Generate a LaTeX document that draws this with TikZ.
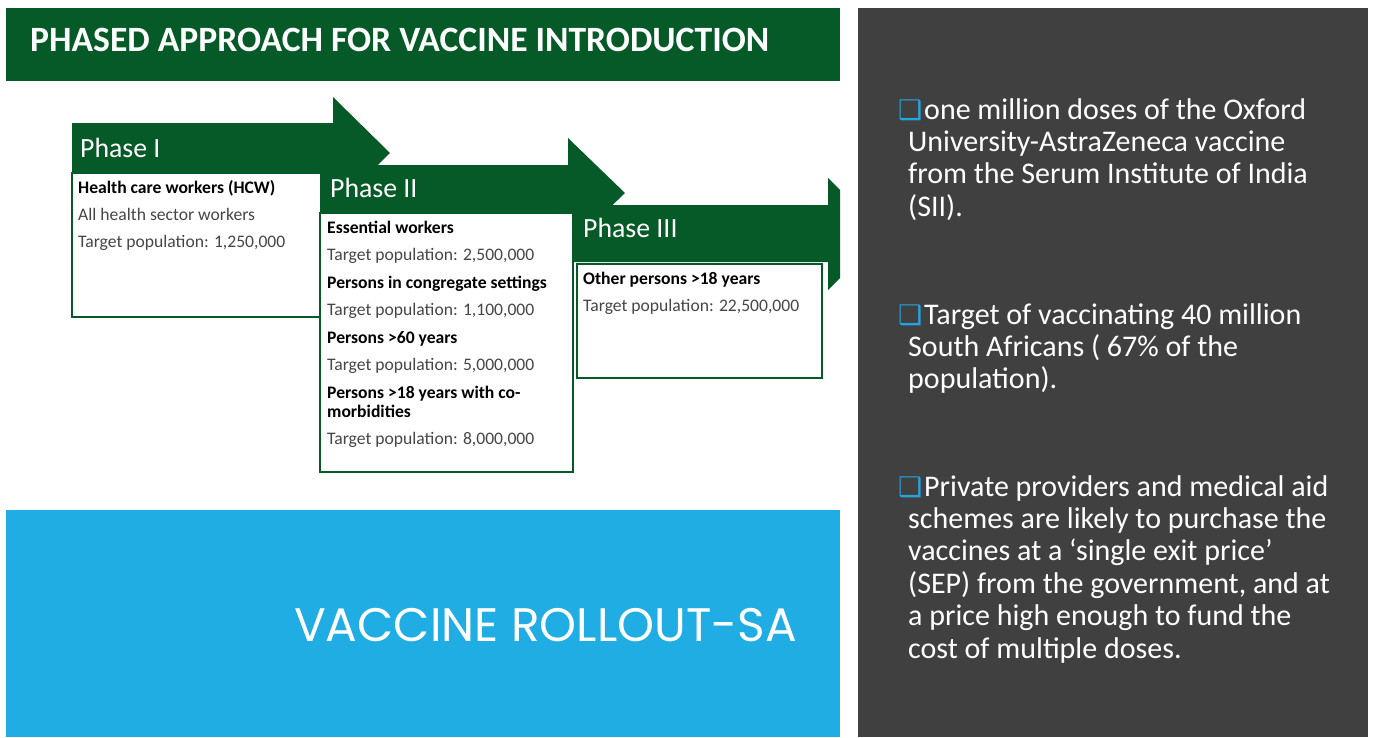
\documentclass[tikz,border=0pt]{standalone}
\usepackage{fontspec}
\setmainfont{Carlito}
\newfontfamily\gothicfont{Poppins}
\newfontfamily\symbolfont{DejaVu Sans}
\usetikzlibrary{positioning}
\definecolor{phasegreen}{RGB}{5,90,40}
\definecolor{rollblue}{RGB}{31,173,228}
\definecolor{panelgray}{RGB}{64,64,64}
\definecolor{bulletblue}{RGB}{35,165,225}
\definecolor{bodygray}{RGB}{70,70,70}
% top-aligned block: its baseline is that of the first line
\newcommand{\firstlinebox}[1]{\parbox[t]{520pt}{\raggedright #1}}
\tikzset{
  phasehead/.style={anchor=base west, inner sep=0pt, text=white, font=\fontsize{27.8}{30}\selectfont},
  phasebox/.style={draw=phasegreen, line width=1.6pt, fill=white},
  boxtext/.style={anchor=base west, inner sep=0pt, text=bodygray, font=\fontsize{17.6}{19}\selectfont},
  pointtext/.style={anchor=base west, inner sep=0pt, text=white, font=\fontsize{30}{32.4}\selectfont},
  squarebullet/.style={anchor=base west, inner sep=0pt, text=bulletblue, font=\symbolfont\fontsize{27}{27}\selectfont},
}

\begin{document}
\begin{tikzpicture}[x=1pt, y=-1pt]
    \useasboundingbox[fill=white] (0, 0) rectangle (1375, 737);

    % banners
    \fill[phasegreen] (6, 8) rectangle (840, 81);
    \fill[rollblue] (6, 510) rectangle (840, 737);
    \fill[panelgray] (858, 8) rectangle (1368, 737);
    \node[anchor=base west, inner sep=0pt, text=white, font=\bfseries\fontsize{35.6}{40}\selectfont] at (30, 51) (title) {PHASED APPROACH FOR VACCINE INTRODUCTION};
    \node[anchor=base east, inner sep=0pt, text=white, font=\gothicfont\fontsize{47}{50}\selectfont] at (797, 641) (rollout) {VACCINE ROLLOUT-SA};

    % phase arrows
    \begin{scope}
      \clip (0, 0) rectangle (840, 737);
      \fill[phasegreen] (72, 123) -- (333, 123) -- (333, 97) -- (390, 153) -- (333, 209) -- (333, 183) -- (72, 183) -- cycle;
      \draw[phasebox] (72, 173) rectangle (333, 317);
      \fill[phasegreen] (320, 165) -- (568, 165) -- (568, 138) -- (625, 193) -- (568, 248) -- (568, 221) -- (320, 221) -- cycle;
      \draw[phasebox] (320, 213) rectangle (573, 472);
      \fill[phasegreen] (574, 205) -- (828, 205) -- (828, 178) -- (884, 234) -- (828, 290) -- (828, 262) -- (574, 262) -- cycle;
      \draw[phasebox] (577, 264) rectangle (822, 378);
    \end{scope}

    \node[phasehead] at (80, 157) (p1) {Phase I};
    \node[phasehead] at (330, 197) (p2) {Phase II};
    \node[phasehead] at (583, 237) (p3) {Phase III};

    \node[boxtext] at (78, 193) (t1) {\firstlinebox{\textbf{\color{black}Health care workers (HCW)}\\[8pt]
      All health sector workers\\[8pt]
      Target population: 1,250,000}};
    \node[boxtext] at (327, 233) (t2) {\firstlinebox{\textbf{\color{black}Essential workers}\\[8.5pt]
      Target population: 2,500,000\\[8.5pt]
      \textbf{\color{black}Persons in congregate settings}\\[8.5pt]
      Target population: 1,100,000\\[8.5pt]
      \textbf{\color{black}Persons >60 years}\\[8.5pt]
      Target population: 5,000,000\\[8.5pt]
      \textbf{\color{black}Persons >18 years with co-}\\
      \textbf{\color{black}morbidities}\\[8.5pt]
      Target population: 8,000,000}};
    \node[boxtext] at (583, 284) (t3) {\firstlinebox{\textbf{\color{black}Other persons >18 years}\\[8pt]
      Target population: 22,500,000}};

    % right panel
    \node[squarebullet] at (898, 119) (b1) {❑};
    \node[pointtext] at (908, 119) (r1) {\firstlinebox{\hspace*{16pt}one million doses of the Oxford\\
      University-AstraZeneca vaccine\\
      from the Serum Institute of India\\
      (SII).}};
    \node[squarebullet] at (898, 324) (b2) {❑};
    \node[pointtext] at (908, 324) (r2) {\firstlinebox{\hspace*{16pt}Target of vaccinating 40 million\\
      South Africans ( 67\% of the\\
      population).}};
    \node[squarebullet] at (898, 496) (b3) {❑};
    \node[pointtext] at (908, 496) (r3) {\firstlinebox{\hspace*{16pt}Private providers and medical aid\\
      schemes are likely to purchase the\\
      vaccines at a ‘single exit price’\\
      (SEP) from the government, and at\\
      a price high enough to fund the\\
      cost of multiple doses.}};
\end{tikzpicture}
\end{document}
